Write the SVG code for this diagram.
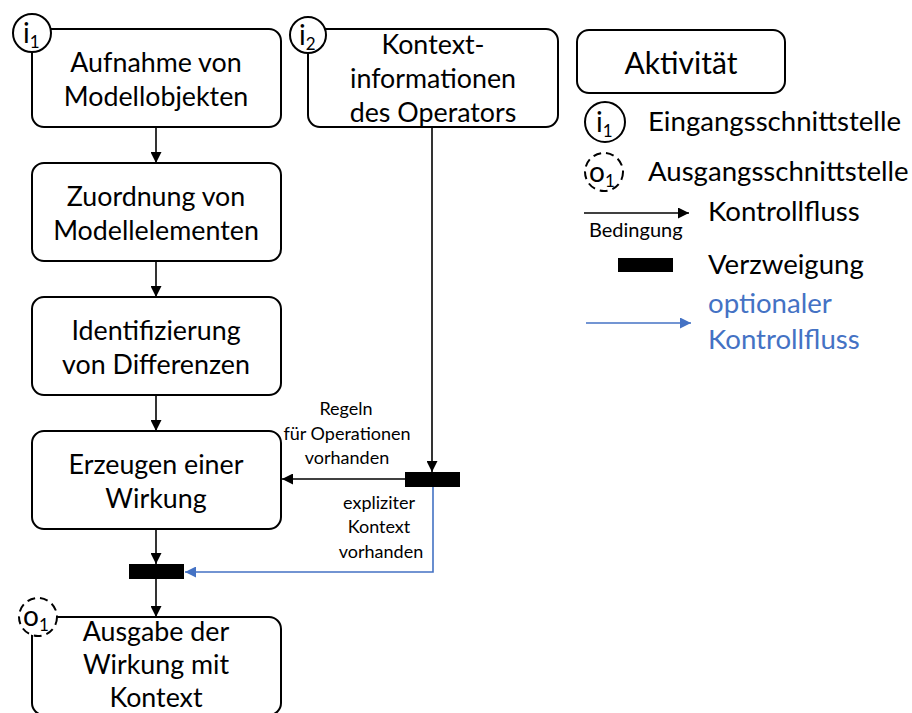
<svg xmlns="http://www.w3.org/2000/svg" width="912" height="713" viewBox="0 0 912 713">
  <style>
    .box { fill: #fff; stroke: #000; stroke-width: 2; }
    .t { font-family: Lato, "Open Sans", "Liberation Sans", sans-serif; font-size: 26.8px; fill: #000; }
    .lg { font-size: 27.6px; }
    .c { text-anchor: middle; }
    .s { font-family: Lato, "Open Sans", "Liberation Sans", sans-serif; font-size: 18px; fill: #000; }
    .blue { fill: #4472C4; }
    .edge { fill: none; stroke: #000; stroke-width: 1.6; }
    .opt { fill: none; stroke: #4472C4; stroke-width: 1.6; }
    .port { fill: #fff; stroke: #000; stroke-width: 2; }
    .portout { fill: #fff; stroke: #000; stroke-width: 2; stroke-dasharray: 8 5; }
    .pl { font-family: Lato, "Open Sans", "Liberation Sans", sans-serif; font-size: 28px; fill: #000; }
    .sub { font-size: 17px; }
  </style>
  <defs>
    <marker id="ah" viewBox="0 0 10 10" refX="10" refY="5" markerWidth="11" markerHeight="11" markerUnits="userSpaceOnUse" orient="auto">
      <path d="M0,0 L10,5 L0,10 z" fill="#000"/>
    </marker>
    <marker id="ahb" viewBox="0 0 10 10" refX="10" refY="5" markerWidth="11" markerHeight="11" markerUnits="userSpaceOnUse" orient="auto">
      <path d="M0,0 L10,5 L0,10 z" fill="#4472C4"/>
    </marker>
  </defs>

  <!-- connectors -->
  <g id="connectors">
    <line class="edge" x1="156" y1="127" x2="156" y2="163" marker-end="url(#ah)"/>
    <line class="edge" x1="156" y1="261" x2="156" y2="297" marker-end="url(#ah)"/>
    <line class="edge" x1="156" y1="395" x2="156" y2="431" marker-end="url(#ah)"/>
    <line class="edge" x1="156" y1="529" x2="156" y2="564" marker-end="url(#ah)"/>
    <line class="edge" x1="156" y1="579" x2="156" y2="617" marker-end="url(#ah)"/>
    <line class="edge" x1="432" y1="127" x2="432" y2="472" marker-end="url(#ah)"/>
    <line class="edge" x1="405" y1="479" x2="282" y2="479" marker-end="url(#ah)"/>
    <polyline class="opt" points="433,487 433,572 185,572" marker-end="url(#ahb)"/>
    <rect x="405" y="472" width="55" height="15" fill="#000"/>
    <rect x="129" y="564" width="55" height="15" fill="#000"/>
    <text class="s c" x="346" y="415">Regeln</text>
    <text class="s c" x="347" y="440">für Operationen</text>
    <text class="s c" x="347" y="464">vorhanden</text>
    <text class="s c" x="379" y="509">expliziter</text>
    <text class="s c" x="379" y="533">Kontext</text>
    <text class="s c" x="381" y="558">vorhanden</text>
  </g>

  <!-- activities -->
  <g id="aufnahme">
    <rect class="box" x="32" y="29" width="249" height="98" rx="12"/>
    <text class="t c" x="156" y="72">Aufnahme von</text>
    <text class="t c" x="156" y="106">Modellobjekten</text>
    <circle class="port" cx="32" cy="33" r="19"/>
    <text class="pl" x="23" y="43">i<tspan class="sub" dy="5">1</tspan></text>
  </g>

  <g id="kontext">
    <rect class="box" x="308" y="29" width="250" height="98" rx="12"/>
    <text class="t c" x="433" y="54">Kontext-</text>
    <text class="t c" x="433" y="88">informationen</text>
    <text class="t c" x="433" y="122">des Operators</text>
    <circle class="port" cx="308" cy="35" r="18"/>
    <text class="pl" x="299" y="45">i<tspan class="sub" dy="5">2</tspan></text>
  </g>

  <g id="zuordnung">
    <rect class="box" x="32" y="163" width="249" height="98" rx="12"/>
    <text class="t c" x="156" y="206">Zuordnung von</text>
    <text class="t c" x="156" y="240">Modellelementen</text>
  </g>

  <g id="identifizierung">
    <rect class="box" x="32" y="297" width="249" height="98" rx="12"/>
    <text class="t c" x="156" y="340">Identifizierung</text>
    <text class="t c" x="156" y="374">von Differenzen</text>
  </g>

  <g id="erzeugen">
    <rect class="box" x="32" y="431" width="249" height="98" rx="12"/>
    <text class="t c" x="156" y="474">Erzeugen einer</text>
    <text class="t c" x="156" y="508">Wirkung</text>
  </g>

  <g id="ausgabe">
    <rect class="box" x="32" y="617" width="249" height="98" rx="12"/>
    <text class="t c" x="156" y="641">Ausgabe der</text>
    <text class="t c" x="156" y="674">Wirkung mit</text>
    <text class="t c" x="156" y="707">Kontext</text>
    <circle class="portout" cx="38" cy="617" r="19"/>
    <text class="pl" x="23" y="626">o<tspan class="sub" dy="5">1</tspan></text>
  </g>

  <!-- legend -->
  <g id="legend">
    <rect class="box" x="577" y="30" width="208" height="63" rx="12"/>
    <text class="t c" x="681" y="74" style="font-size:30px">Aktivität</text>
    <circle class="port" cx="605" cy="122" r="20"/>
    <text class="pl" x="596" y="132">i<tspan class="sub" dy="5">1</tspan></text>
    <text class="t lg" x="648" y="131">Eingangsschnittstelle</text>
    <circle class="portout" cx="604" cy="172" r="19"/>
    <text class="pl" x="589" y="182">o<tspan class="sub" dy="5">1</tspan></text>
    <text class="t lg" x="648" y="181">Ausgangsschnittstelle</text>
    <line class="edge" x1="584" y1="213" x2="689" y2="213" marker-end="url(#ah)"/>
    <text class="s" x="589" y="237" style="font-size:20px">Bedingung</text>
    <text class="t lg" x="708" y="221">Kontrollfluss</text>
    <rect x="618" y="258" width="55" height="14" fill="#000"/>
    <text class="t lg" x="708" y="274">Verzweigung</text>
    <line class="opt" x1="586" y1="323" x2="691" y2="323" marker-end="url(#ahb)"/>
    <text class="t lg blue" x="708" y="313">optionaler</text>
    <text class="t lg blue" x="708" y="349">Kontrollfluss</text>
  </g>
</svg>
